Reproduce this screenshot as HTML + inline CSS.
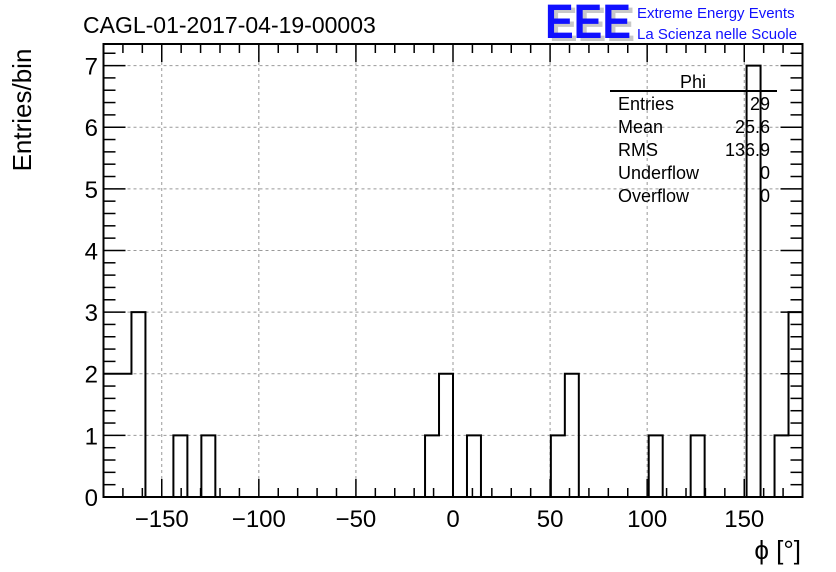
<!DOCTYPE html>
<html><head><meta charset="utf-8"><style>
html,body{margin:0;padding:0;background:#fff;}
svg{display:block;font-family:"Liberation Sans",sans-serif;}
</style></head><body>
<svg id="chart" width="836" height="572" viewBox="0 0 836 572" xmlns="http://www.w3.org/2000/svg">
<text x="83" y="33" font-size="23" fill="#000">CAGL-01-2017-04-19-00003</text>
<g>
<text x="549" y="41" font-size="48" font-weight="bold" fill="#c8c8c8" textLength="86" lengthAdjust="spacingAndGlyphs">EEE</text>
<text x="545" y="38" font-size="48" font-weight="bold" fill="#1010ff" textLength="86" lengthAdjust="spacingAndGlyphs">EEE</text>
<text x="637" y="18" font-size="15" fill="#1010ff">Extreme Energy Events</text>
<text x="637" y="39" font-size="15" fill="#1010ff">La Scienza nelle Scuole</text>
</g>
<g id="grid"></g>
<g id="bars"></g>
<g id="axes"></g>
<text transform="translate(31,110) rotate(-90)" text-anchor="middle" font-size="26">Entries/bin</text>
<text x="801" y="559" text-anchor="end" font-size="26">ϕ [°]</text>
<g font-size="18">
<text x="693" y="88" text-anchor="middle">Phi</text>
<line x1="610" y1="91" x2="777" y2="91" stroke="#000" stroke-width="2"/>
<text x="618" y="110">Entries</text><text x="770" y="110" text-anchor="end">29</text>
<text x="618" y="133">Mean</text><text x="770" y="133" text-anchor="end">25.6</text>
<text x="618" y="156">RMS</text><text x="770" y="156" text-anchor="end">136.9</text>
<text x="618" y="179">Underflow</text><text x="770" y="179" text-anchor="end">0</text>
<text x="618" y="202">Overflow</text><text x="770" y="202" text-anchor="end">0</text>
</g>
</svg>
<script>
const binCounts = [2,2,3,0,0,1,0,1,0,0,0,0,0,0,0,0,0,0,0,0,0,0,0,1,2,0,1,0,0,0,0,0,1,2,0,0,0,0,0,1,0,0,1,0,0,0,7,0,1,3];
const xTicks = [-150,-100,-50,0,50,100,150];
const yTicks = [0,1,2,3,4,5,6,7];
const xMin=-180, xMax=180, yMax=7.35;
const L=103.5, R=802.5, T=44, B=497;
const NS='http://www.w3.org/2000/svg';
const sx=v=>L+(v-xMin)/(xMax-xMin)*(R-L);
const sy=v=>B-v/yMax*(B-T);
function mk(tag,attrs,parent){const e=document.createElementNS(NS,tag);for(const k in attrs)e.setAttribute(k,attrs[k]);parent.appendChild(e);return e;}
const grid=document.getElementById('grid'),bars=document.getElementById('bars'),axes=document.getElementById('axes');
xTicks.forEach(v=>{const g=mk('line',{x1:sx(v),x2:sx(v),y1:T,y2:B,stroke:'#999','stroke-dasharray':'3,3','stroke-width':1},grid);

});
yTicks.forEach(v=>{if(v===0)return;const g=mk('line',{x1:L,x2:R,y1:sy(v),y2:sy(v),stroke:'#999','stroke-dasharray':'3,3','stroke-width':1},grid);

});
const w=(xMax-xMin)/binCounts.length;
let d='M'+sx(xMin)+','+sy(0);
binCounts.forEach((c,i)=>{d+=' L'+sx(xMin+i*w)+','+sy(c)+' L'+sx(xMin+(i+1)*w)+','+sy(c);});
d+=' L'+sx(xMax)+','+sy(0);
const h=mk('path',{d:d,fill:'none',stroke:'#000','stroke-width':2},bars);


const fr=mk('rect',{x:L,y:T,width:R-L,height:B-T,fill:'none',stroke:'#000','stroke-width':2},axes);


for(let v=xMin;v<=xMax;v+=10){const major=v%50===0;const len=major?18:9;
mk('line',{x1:sx(v),x2:sx(v),y1:B,y2:B-len,stroke:'#000','stroke-width':1.5},axes);
mk('line',{x1:sx(v),x2:sx(v),y1:T,y2:T+len,stroke:'#000','stroke-width':1.5},axes);}
xTicks.forEach(v=>{const t=mk('text',{x:sx(v),y:527,'text-anchor':'middle','font-size':24},axes);t.textContent=(v<0?'\u2212'+(-v):v);

});
for(let v=0;v<=yMax+1e-9;v+=0.2){const major=Math.abs(v-Math.round(v))<1e-6;const len=major?22:12;
mk('line',{x1:L,x2:L+len,y1:sy(v),y2:sy(v),stroke:'#000','stroke-width':1.5},axes);
mk('line',{x1:R,x2:R-len,y1:sy(v),y2:sy(v),stroke:'#000','stroke-width':1.5},axes);}
yTicks.forEach(v=>{const t=mk('text',{x:98,y:sy(v)+9,'text-anchor':'end','font-size':24},axes);t.textContent=v;

});
</script>
</body></html>
